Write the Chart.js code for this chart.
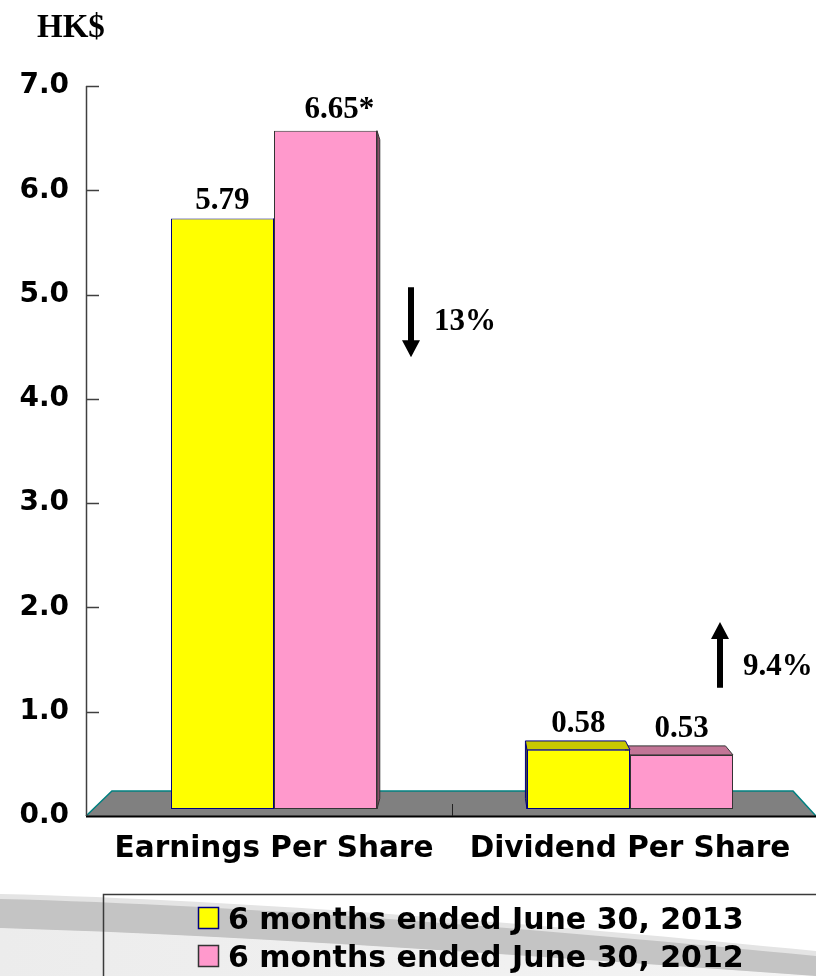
<!DOCTYPE html>
<html>
<head>
<meta charset="utf-8">
<title>Earnings and Dividend Per Share</title>
<script src="https://cdn.jsdelivr.net/npm/chart.js@4.4.1/dist/chart.umd.min.js"></script>
<style>
  html, body { margin: 0; padding: 0; background: #fff; }
  #wrap { width: 816px; height: 976px; }
</style>
</head>
<body>
<div id="wrap"><canvas id="epsChart" width="816" height="976"></canvas></div>
<script>
// values
const categories = ['Earnings Per Share', 'Dividend Per Share'];
const seriesNames = ['6 months ended June 30, 2013', '6 months ended June 30, 2012'];
const values2013 = [5.79, 0.58];
const values2012 = [6.65, 0.53];
const notes2012 = ['*', ''];
const changeLabels = ['13%', '9.4%'];
const changeUp = [false, true];
const yTicks = [0, 1, 2, 3, 4, 5, 6, 7];
const unitLabel = 'HK$';

const sans = "'DejaVu Sans', sans-serif";
const serif = "'Liberation Serif', 'Times New Roman', serif";

// fake 3d: vanishing point and depth of bars / floor
const VP = { x: 473, y: 443 };
const barDepth = 0.029;
const floorDepth = 0.067;
const axisX = 86;

function toBack(x, y, t) {
    return [x + (VP.x - x) * t, y + (VP.y - y) * t];
}

function quad(ctx, pts, fill, stroke) {
    ctx.beginPath();
    ctx.moveTo(pts[0][0], pts[0][1]);
    for (let i = 1; i < pts.length; i++) ctx.lineTo(pts[i][0], pts[i][1]);
    ctx.closePath();
    ctx.fillStyle = fill;
    ctx.fill();
    ctx.lineWidth = 1;
    ctx.strokeStyle = stroke;
    ctx.stroke();
}

const faceColors = [
    { top: '#c8c800', side: '#8c8c00', line: '#000080' },
    { top: '#c27596', side: '#8a4f68', line: '#333333' }
];

// visible top of a bar (back edge when the top face shows)
function visibleTop(bar) {
    if (bar.y > VP.y) return toBack(bar.x, bar.y, barDepth)[1];
    return bar.y;
}

const backgroundPlugin = {
    id: 'swoosh',
    beforeDraw(chart) {
        const ctx = chart.ctx;
        const w = chart.width, h = chart.height;
        ctx.save();
        // pale area under the band
        ctx.beginPath();
        ctx.moveTo(0, 928);
        ctx.bezierCurveTo(260, 936, 560, 958, w, 976);
        ctx.lineTo(w, h);
        ctx.lineTo(0, h);
        ctx.closePath();
        let g = ctx.createLinearGradient(0, 930, w, 976);
        g.addColorStop(0, '#ececec');
        g.addColorStop(1, '#f4f4f4');
        ctx.fillStyle = g;
        ctx.fill();
        // soft halo
        ctx.beginPath();
        ctx.moveTo(0, 894);
        ctx.bezierCurveTo(250, 900, 550, 925, w, 951);
        ctx.lineTo(w, 976);
        ctx.bezierCurveTo(560, 958, 260, 936, 0, 928);
        ctx.closePath();
        ctx.fillStyle = '#e4e4e4';
        ctx.fill();
        // the gray band
        ctx.beginPath();
        ctx.moveTo(0, 899);
        ctx.bezierCurveTo(250, 905, 550, 930, w, 956);
        ctx.lineTo(w, 976);
        ctx.bezierCurveTo(560, 958, 260, 936, 0, 928);
        ctx.closePath();
        ctx.fillStyle = '#c4c4c4';
        ctx.fill();
        ctx.restore();
    }
};

const floorPlugin = {
    id: 'floor3d',
    beforeDatasetsDraw(chart) {
        const ctx = chart.ctx;
        const y = chart.scales.y;
        const x = chart.scales.x;
        const y0 = y.getPixelForValue(0);
        const right = chart.width;
        const bl = toBack(axisX, y0, floorDepth);
        const br = toBack(right, y0, floorDepth);
        ctx.save();
        ctx.beginPath();
        ctx.moveTo(axisX, y0);
        ctx.lineTo(bl[0], bl[1]);
        ctx.lineTo(br[0], br[1]);
        ctx.lineTo(right, y0);
        ctx.closePath();
        ctx.fillStyle = '#808080';
        ctx.fill();
        ctx.beginPath();
        ctx.moveTo(axisX, y0);
        ctx.lineTo(bl[0], bl[1]);
        ctx.lineTo(br[0], br[1]);
        ctx.lineTo(right, y0);
        ctx.strokeStyle = '#008080';
        ctx.lineWidth = 1.5;
        ctx.stroke();
        // front edge
        ctx.beginPath();
        ctx.moveTo(axisX, y0 + 0.5);
        ctx.lineTo(right, y0 + 0.5);
        ctx.strokeStyle = '#000';
        ctx.lineWidth = 2;
        ctx.stroke();
        // divider between categories
        const mid = (x.getPixelForValue(0) + x.getPixelForValue(1)) / 2;
        ctx.beginPath();
        ctx.moveTo(mid + 0.5, y0);
        ctx.lineTo(mid + 0.5, y0 - 12);
        ctx.strokeStyle = '#222';
        ctx.lineWidth = 1;
        ctx.stroke();
        // y axis line with inward ticks
        ctx.beginPath();
        ctx.moveTo(axisX + 0.5, y.getPixelForValue(yTicks[yTicks.length - 1]));
        ctx.lineTo(axisX + 0.5, y0);
        yTicks.forEach(v => {
            if (v === 0) return;
            const py = Math.round(y.getPixelForValue(v)) + 0.5;
            ctx.moveTo(axisX, py);
            ctx.lineTo(axisX + 13, py);
        });
        ctx.strokeStyle = '#404040';
        ctx.lineWidth = 1.5;
        ctx.stroke();

        // side and top faces of the bars, back series first
        [1, 0].forEach(di => {
            const meta = chart.getDatasetMeta(di);
            const c = faceColors[di];
            meta.data.forEach(bar => {
                const l = bar.x - bar.width / 2, r = bar.x + bar.width / 2;
                const t = bar.y, b = bar.base;
                if (r < VP.x) {
                    quad(ctx, [[r, t], [r, b], toBack(r, b, barDepth), toBack(r, t, barDepth)], c.side, c.line);
                }
                if (l > VP.x) {
                    quad(ctx, [[l, t], [l, b], toBack(l, b, barDepth), toBack(l, t, barDepth)], c.side, c.line);
                }
                if (t > VP.y) {
                    quad(ctx, [[l, t], [r, t], toBack(r, t, barDepth), toBack(l, t, barDepth)], c.top, c.line);
                }
            });
        });
        ctx.restore();
    }
};

const labelPlugin = {
    id: 'labelsAndArrows',
    afterDatasetsDraw(chart) {
        const ctx = chart.ctx;
        const y = chart.scales.y;
        const x = chart.scales.x;
        ctx.save();
        ctx.fillStyle = '#000';
        ctx.font = 'bold 31px ' + serif;
        ctx.textBaseline = 'alphabetic';
        chart.data.datasets.forEach((ds, di) => {
            chart.getDatasetMeta(di).data.forEach((bar, i) => {
                const num = ds.data[i].toFixed(2);
                const note = di === 1 ? notes2012[i] : '';
                const wNum = ctx.measureText(num).width;
                ctx.textAlign = 'left';
                ctx.fillText(num + note, bar.x - wNum / 2 + (note ? 6 : 0), visibleTop(bar) - (note ? 13 : 9));
            });
        });

        // change arrows
        const marks = [
            { top: 5.07, bottom: 4.40, labelAt: 4.74, dx: 137 },
            { top: 1.86, bottom: 1.23, labelAt: 1.43, dx: 90 }
        ];
        marks.forEach((m, i) => {
            const ax = x.getPixelForValue(i) + m.dx;
            const yt = y.getPixelForValue(m.top);
            const yb = y.getPixelForValue(m.bottom);
            const head = 17, half = 9, shaft = 3;
            ctx.beginPath();
            if (changeUp[i]) {
                ctx.moveTo(ax, yt);
                ctx.lineTo(ax + half, yt + head);
                ctx.lineTo(ax + shaft, yt + head);
                ctx.lineTo(ax + shaft, yb);
                ctx.lineTo(ax - shaft, yb);
                ctx.lineTo(ax - shaft, yt + head);
                ctx.lineTo(ax - half, yt + head);
            } else {
                ctx.moveTo(ax, yb);
                ctx.lineTo(ax + half, yb - head);
                ctx.lineTo(ax + shaft, yb - head);
                ctx.lineTo(ax + shaft, yt);
                ctx.lineTo(ax - shaft, yt);
                ctx.lineTo(ax - shaft, yb - head);
                ctx.lineTo(ax - half, yb - head);
            }
            ctx.closePath();
            ctx.fill();
            ctx.textAlign = 'left';
            ctx.textBaseline = 'middle';
            ctx.fillText(changeLabels[i], ax + 23, y.getPixelForValue(m.labelAt));
        });

        // unit
        ctx.font = 'bold 33px ' + serif;
        ctx.textAlign = 'left';
        ctx.textBaseline = 'alphabetic';
        ctx.fillText(unitLabel, 37, 37);
        ctx.restore();
    },
    afterDraw(chart) {
        // legend box
        const ctx = chart.ctx;
        ctx.save();
        ctx.strokeStyle = '#3a3a3a';
        ctx.lineWidth = 1.5;
        ctx.strokeRect(103.5, 894.5, 760, 120);
        ctx.font = 'bold 30px ' + sans;
        ctx.textAlign = 'left';
        ctx.textBaseline = 'alphabetic';
        chart.data.datasets.forEach((ds, i) => {
            const top = 907 + i * 38;
            ctx.fillStyle = ds.backgroundColor;
            ctx.fillRect(198, top, 20, 21);
            ctx.strokeStyle = ds.borderColor;
            ctx.lineWidth = 1.5;
            ctx.strokeRect(198.5, top + 0.5, 20, 21);
            ctx.fillStyle = '#000';
            ctx.fillText(ds.label, 228, top + 22);
        });
        ctx.restore();
    }
};

new Chart(document.getElementById('epsChart').getContext('2d'), {
    type: 'bar',
    data: {
        labels: categories,
        datasets: [
            {
                label: seriesNames[0],
                data: values2013,
                backgroundColor: '#ffff00',
                borderColor: '#000080',
                borderWidth: 1,
                borderSkipped: false,
                yAxisID: 'yb'
            },
            {
                label: seriesNames[1],
                data: values2012,
                backgroundColor: '#ff99cc',
                borderColor: '#333333',
                borderWidth: 1,
                borderSkipped: false,
                yAxisID: 'yb'
            }
        ]
    },
    options: {
        responsive: false,
        animation: false,
        devicePixelRatio: 1,
        layout: { padding: { left: 0, right: 8, top: 86, bottom: 0 } },
        categoryPercentage: 0.5787,
        barPercentage: 1,
        plugins: {
            legend: { display: false },
            tooltip: { enabled: false }
        },
        scales: {
            x: {
                grid: { display: false, drawTicks: false },
                border: { display: false },
                ticks: {
                    color: '#000',
                    padding: 16,
                    font: { family: sans, size: 29.5, weight: 'bold' }
                },
                afterFit(scale) { scale.height = 160; }
            },
            y: {
                min: 0,
                max: 7,
                grid: { display: false, drawTicks: false },
                border: { display: false },
                afterBuildTicks(scale) { scale.ticks = yTicks.map(v => ({ value: v })); },
                afterFit(scale) { scale.width = 96; },
                ticks: {
                    color: '#000',
                    padding: 27,
                    font: { family: sans, size: 28, weight: 'bold' },
                    callback: (v) => Number(v).toFixed(1)
                }
            },
            // bars stand on the floor, a little behind its front edge
            yb: {
                display: false,
                min: -0.0686,
                max: 7.088
            }
        }
    },
    plugins: [backgroundPlugin, floorPlugin, labelPlugin]
});
</script>
</body>
</html>
